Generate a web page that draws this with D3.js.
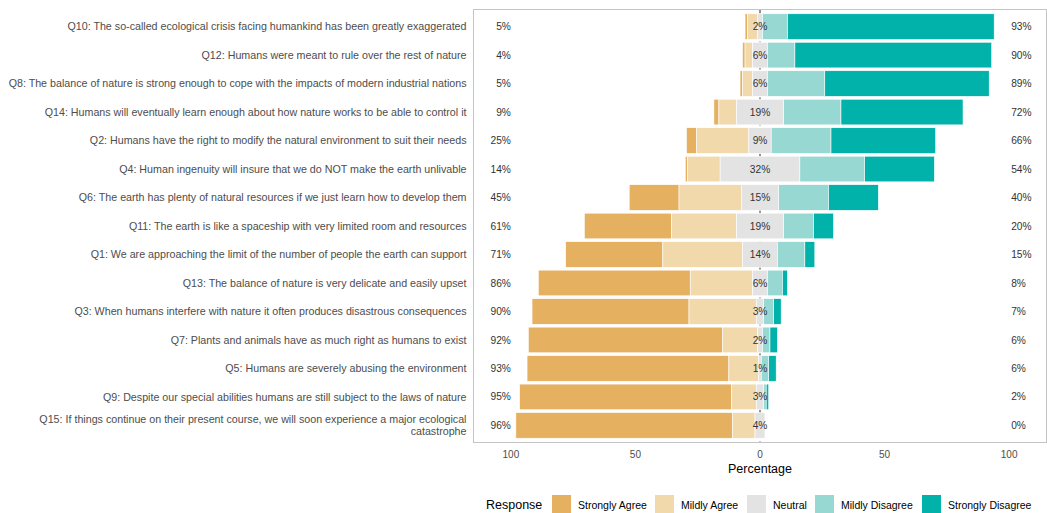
<!DOCTYPE html>
<html>
<head>
<meta charset="utf-8">
<script src="https://cdn.jsdelivr.net/npm/d3@7"></script>
<style>
  html, body { margin: 0; padding: 0; background: #fff; }
  svg { display: block; font-family: "Liberation Sans", Arial, sans-serif; }
</style>
</head>
<body>
<svg id="chart" width="1047" height="513"></svg>
<script>
// ---- data (top row first) ----
const questions = [
  "Q10: The so-called ecological crisis facing humankind has been greatly exaggerated",
  "Q12: Humans were meant to rule over the rest of nature",
  "Q8: The balance of nature is strong enough to cope with the impacts of modern industrial nations",
  "Q14: Humans will eventually learn enough about how nature works to be able to control it",
  "Q2: Humans have the right to modify the natural environment to suit their needs",
  "Q4: Human ingenuity will insure that we do NOT make the earth unlivable",
  "Q6: The earth has plenty of natural resources if we just learn how to develop them",
  "Q11: The earth is like a spaceship with very limited room and resources",
  "Q1: We are approaching the limit of the number of people the earth can support",
  "Q13: The balance of nature is very delicate and easily upset",
  "Q3: When humans interfere with nature it often produces disastrous consequences",
  "Q7: Plants and animals have as much right as humans to exist",
  "Q5: Humans are severely abusing the environment",
  "Q9: Despite our special abilities humans are still subject to the laws of nature",
  "Q15: If things continue on their present course, we will soon experience a major ecological catastrophe"
];
const stronglyAgree    = [1, 1, 1, 2, 4, 1, 20, 35, 39, 61, 63, 78, 81, 85, 87];
const mildlyAgree      = [4, 3, 4, 7, 21, 13, 25, 26, 32, 25, 27, 14, 12, 10, 9];
const neutral          = [2, 6, 6, 19, 9, 32, 15, 19, 14, 6, 3, 2, 1, 3, 4];
const mildlyDisagree   = [10, 11, 23, 23, 24, 26, 20, 12, 11, 6, 4, 3, 3, 1, 0];
const stronglyDisagree = [83, 79, 66, 49, 42, 28, 20, 8, 4, 2, 3, 3, 3, 1, 0];
const responses = ["Strongly Agree", "Mildly Agree", "Neutral", "Mildly Disagree", "Strongly Disagree"];
const colors = ["#E5B05F", "#F2D9AC", "#E3E3E3", "#97D8D2", "#00B2A9"];
const xTicks = [-100, -50, 0, 50, 100];

// ---- layout ----
const svg = d3.select("#chart");
const panel = { left: 473.5, right: 1046.5, top: 9.5, bottom: 442.5 };

const x = d3.scaleLinear().domain([-115, 115]).range([panel.left, panel.right]);
const y = d3.scalePoint().domain(questions).range([panel.top, panel.bottom]).padding(0.6);
const barH = y.step() * 0.9;
const color = d3.scaleOrdinal().domain(responses).range(colors);

// panel background
svg.append("rect")
  .attr("x", panel.left).attr("y", panel.top)
  .attr("width", panel.right - panel.left).attr("height", panel.bottom - panel.top)
  .attr("fill", "#fff");

// dashed zero line (under bars)
svg.append("line")
  .attr("x1", x(0)).attr("x2", x(0))
  .attr("y1", panel.top).attr("y2", panel.bottom)
  .attr("stroke", "#222").attr("stroke-width", 1)
  .attr("stroke-dasharray", "4,4");

// build segments
const segs = [];
questions.forEach((q, i) => {
  const sa = stronglyAgree[i], ma = mildlyAgree[i], ne = neutral[i],
        md = mildlyDisagree[i], sd = stronglyDisagree[i];
  const start = -(sa + ma + ne / 2);
  const vals = [sa, ma, ne, md, sd];
  let cur = start;
  vals.forEach((v, k) => {
    segs.push({ q, r: responses[k], x0: cur, x1: cur + v });
    cur += v;
  });
});

svg.append("g").selectAll("rect").data(segs.filter(d => d.x1 > d.x0)).join("rect")
  .attr("x", d => x(d.x0))
  .attr("width", d => x(d.x1) - x(d.x0))
  .attr("y", d => y(d.q) - barH / 2)
  .attr("height", barH)
  .attr("fill", d => color(d.r))
  .attr("stroke", "#fff")
  .attr("stroke-width", 0.6);

// percentage labels
const lab = svg.append("g").attr("font-size", "10.2px").attr("fill", "#333");
questions.forEach((q, i) => {
  const left = stronglyAgree[i] + mildlyAgree[i];
  const right = mildlyDisagree[i] + stronglyDisagree[i];
  lab.append("text").attr("x", x(-100)).attr("y", y(q)).attr("dy", "0.35em")
    .attr("text-anchor", "end").text(Math.round(left) + "%");
  lab.append("text").attr("x", x(0)).attr("y", y(q)).attr("dy", "0.35em")
    .attr("text-anchor", "middle").text(Math.round(neutral[i]) + "%");
  lab.append("text").attr("x", x(100) + 2).attr("y", y(q)).attr("dy", "0.35em")
    .attr("text-anchor", "start").text(Math.round(right) + "%");
});

// panel border
svg.append("rect")
  .attr("x", panel.left).attr("y", panel.top)
  .attr("width", panel.right - panel.left).attr("height", panel.bottom - panel.top)
  .attr("fill", "none").attr("stroke", "#c4c4c4").attr("stroke-width", 1);

// y labels (wrapped at a max width)
const yl = svg.append("g").attr("font-size", "10.7px").attr("fill", "#4d4d4d");
const maxW = 465;
questions.forEach(q => {
  const t = yl.append("text").attr("x", panel.left - 7).attr("text-anchor", "end");
  const words = q.split(" ");
  const lines = [];
  let line = [];
  const tmp = yl.append("text").attr("visibility", "hidden");
  words.forEach(w => {
    line.push(w);
    tmp.text(line.join(" "));
    if (tmp.node().getComputedTextLength() > maxW && line.length > 1) {
      line.pop();
      lines.push(line.join(" "));
      line = [w];
    }
  });
  lines.push(line.join(" "));
  tmp.remove();
  const lh = 11.5;
  const y0 = y(q) - (lines.length - 1) * lh / 2;
  lines.forEach((l, k) => {
    t.append("tspan").attr("x", panel.left - 7).attr("y", y0 + k * lh).attr("dy", "0.35em").text(l);
  });
});

// x axis
const xa = svg.append("g").attr("font-size", "10px").attr("fill", "#4d4d4d");
xTicks.forEach(v => {
  xa.append("text").attr("x", x(v)).attr("y", panel.bottom + 11.5)
    .attr("dy", "0.35em").attr("text-anchor", "middle").text(Math.abs(v));
});
svg.append("text").attr("x", x(0)).attr("y", 473).attr("text-anchor", "middle")
  .attr("font-size", "12.5px").attr("fill", "#000").text("Percentage");

// legend
const lg = svg.append("g");
lg.append("text").attr("x", 486).attr("y", 505).attr("dy", "0.35em")
  .attr("font-size", "12.5px").attr("fill", "#000").text("Response");
const keyX = [552, 655, 747, 815, 922];
responses.forEach((r, k) => {
  lg.append("rect").attr("x", keyX[k]).attr("y", 495).attr("width", 19).attr("height", 19)
    .attr("fill", color(r));
  lg.append("text").attr("x", keyX[k] + 26).attr("y", 505).attr("dy", "0.35em")
    .attr("font-size", "10.5px").attr("fill", "#000").text(r);
});
</script>
</body>
</html>
